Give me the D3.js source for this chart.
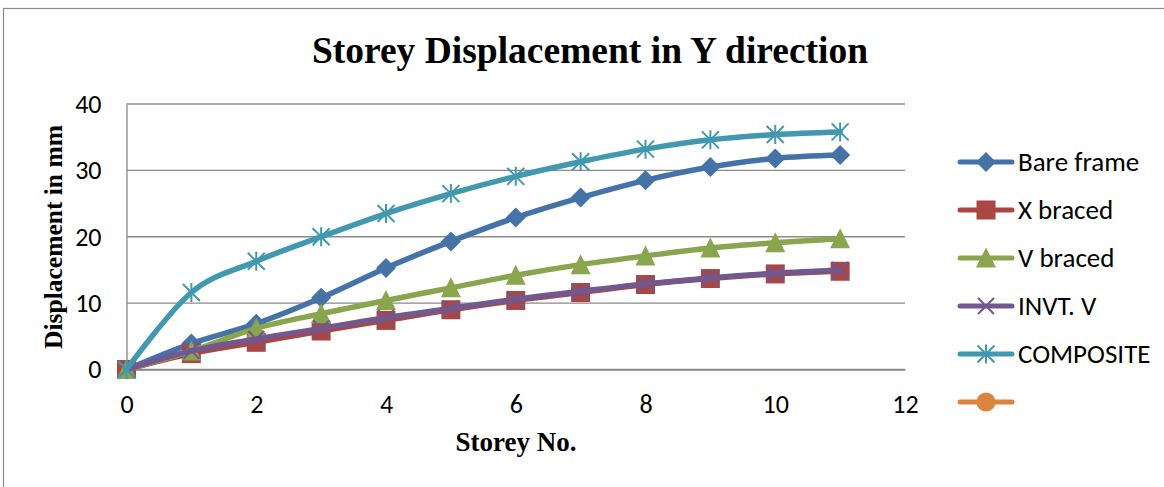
<!DOCTYPE html>
<html>
<head>
<meta charset="utf-8">
<script src="https://cdn.jsdelivr.net/npm/d3@7"></script>
<style>
  html, body { margin: 0; padding: 0; background: #fff; }
  svg { display: block; }
</style>
</head>
<body>
<svg id="chart" width="1164" height="487"></svg>
<script>
// Storey numbers (x) and displacement in mm for each structural system
const storeys   = [0, 1, 2, 3, 4, 5, 6, 7, 8, 9, 10, 11];
const bareFrame = [0, 3.9, 6.9, 10.8, 15.3, 19.3, 22.9, 25.9, 28.5, 30.5, 31.8, 32.3];
const xBraced   = [0, 2.4, 4.1, 5.8, 7.4, 9.0, 10.4, 11.6, 12.8, 13.7, 14.4, 14.8];
const vBraced   = [0, 2.8, 6.2, 8.4, 10.4, 12.3, 14.2, 15.8, 17.1, 18.3, 19.1, 19.7];
const invtV     = [0, 2.8, 4.6, 6.2, 7.8, 9.2, 10.6, 11.8, 12.9, 13.8, 14.5, 15.0];
const composite = [0, 11.6, 16.3, 20.0, 23.5, 26.5, 29.1, 31.3, 33.2, 34.6, 35.4, 35.8];
const unnamed   = [];   // empty series, listed in the legend only

const seriesNames = ["Bare frame", "X braced", "V braced", "INVT. V", "COMPOSITE", ""];
const xTicks = [0, 2, 4, 6, 8, 10, 12];
const yTicks = [0, 10, 20, 30, 40];

const series = [
  { name: seriesNames[0], values: bareFrame, color: "#4572A7", marker: "diamond" },
  { name: seriesNames[1], values: xBraced,   color: "#AA4643", marker: "square" },
  { name: seriesNames[2], values: vBraced,   color: "#89A54E", marker: "triangle" },
  { name: seriesNames[3], values: invtV,     color: "#71588F", marker: "x" },
  { name: seriesNames[4], values: composite, color: "#4198AF", marker: "star" },
  { name: seriesNames[5], values: unnamed,   color: "#DB843D", marker: "circle" }
];

const sansFont  = "Carlito, Lato, 'Open Sans', sans-serif";
const serifFont = "'Liberation Serif', 'Times New Roman', serif";

const svg = d3.select("#chart");

// chart frame
svg.append("rect")
  .attr("x", 3.5).attr("y", 8.5)
  .attr("width", 1200).attr("height", 520)
  .attr("fill", "#fff").attr("stroke", "#8c8c8c").attr("stroke-width", 1.2);

const x = d3.scaleLinear().domain([0, 12]).range([126.5, 905]);
const y = d3.scaleLinear().domain([0, 40]).range([369.5, 104]);

// horizontal gridlines
svg.append("g")
  .selectAll("line")
  .data(yTicks)
  .join("line")
  .attr("x1", x(0)).attr("x2", x(12))
  .attr("y1", d => y(d)).attr("y2", d => y(d))
  .attr("stroke", "#8a8a8a").attr("stroke-width", 1.3);

// y axis
const yAxis = svg.append("g")
  .attr("transform", `translate(${x(0)},0)`)
  .call(d3.axisLeft(y).tickValues(yTicks).tickSize(0).tickPadding(25));
yAxis.select(".domain").attr("stroke", "#8a8a8a").attr("stroke-width", 1.3);
yAxis.selectAll("text")
  .attr("font-family", sansFont)
  .attr("font-size", 26).attr("fill", "#000");

// x axis
const xAxis = svg.append("g")
  .attr("transform", `translate(0,${y(0)})`)
  .call(d3.axisBottom(x).tickValues(xTicks).tickSize(0).tickPadding(25));
xAxis.select(".domain").attr("stroke", "#8a8a8a").attr("stroke-width", 1.3);
xAxis.selectAll("text")
  .attr("font-family", sansFont)
  .attr("font-size", 26).attr("fill", "#000");

// titles
svg.append("text")
  .attr("x", 590).attr("y", 63)
  .attr("text-anchor", "middle")
  .attr("font-family", serifFont)
  .attr("font-weight", "bold").attr("font-size", 37.5)
  .text("Storey Displacement in Y direction");

svg.append("text")
  .attr("x", 516).attr("y", 451)
  .attr("text-anchor", "middle")
  .attr("font-family", serifFont)
  .attr("font-weight", "bold").attr("font-size", 27)
  .text("Storey No.");

svg.append("text")
  .attr("transform", "translate(62,237) rotate(-90)")
  .attr("text-anchor", "middle")
  .attr("font-family", serifFont)
  .attr("font-weight", "bold").attr("font-size", 25.5)
  .text("Displacement in mm");

// marker shapes
function drawMarker(g, type, color, cx, cy) {
  const s = 9.5;
  if (type === "diamond") {
    g.append("path")
      .attr("d", `M${cx},${cy - s - 0.5}L${cx + s + 0.5},${cy}L${cx},${cy + s + 0.5}L${cx - s - 0.5},${cy}Z`)
      .attr("fill", color);
  } else if (type === "square") {
    g.append("rect")
      .attr("x", cx - s).attr("y", cy - s)
      .attr("width", 2 * s).attr("height", 2 * s)
      .attr("fill", color);
  } else if (type === "triangle") {
    g.append("path")
      .attr("d", `M${cx},${cy - s - 1}L${cx + s + 0.5},${cy + s}L${cx - s - 0.5},${cy + s}Z`)
      .attr("fill", color);
  } else if (type === "x") {
    const k = 8;
    g.append("path")
      .attr("d", `M${cx - k},${cy - k}L${cx + k},${cy + k}M${cx + k},${cy - k}L${cx - k},${cy + k}`)
      .attr("stroke", color).attr("stroke-width", 2).attr("fill", "none");
  } else if (type === "star") {
    const k = 8.5;
    g.append("path")
      .attr("d", `M${cx - k},${cy - k}L${cx + k},${cy + k}M${cx + k},${cy - k}L${cx - k},${cy + k}M${cx},${cy - k - 1}L${cx},${cy + k + 1}`)
      .attr("stroke", color).attr("stroke-width", 2).attr("fill", "none");
  } else if (type === "circle") {
    g.append("circle")
      .attr("cx", cx).attr("cy", cy).attr("r", s)
      .attr("fill", color);
  }
}

// series lines and markers (smoothed)
const line = d3.line()
  .x(d => x(d[0]))
  .y(d => y(d[1]))
  .curve(d3.curveCardinal.tension(0));

series.forEach(s => {
  const pts = s.values.map((v, i) => [storeys[i], v]);
  if (!pts.length) return;
  const g = svg.append("g");
  g.append("path")
    .attr("d", line(pts))
    .attr("fill", "none")
    .attr("stroke", s.color)
    .attr("stroke-width", 5.5)
    .attr("stroke-linejoin", "round")
    .attr("stroke-linecap", "round");
  pts.forEach(p => drawMarker(g, s.marker, s.color, x(p[0]), y(p[1])));
});

// legend
const legendY0 = 162, legendStep = 48;
series.forEach((s, i) => {
  const ly = legendY0 + i * legendStep;
  const g = svg.append("g");
  g.append("line")
    .attr("x1", 960).attr("x2", 1012)
    .attr("y1", ly).attr("y2", ly)
    .attr("stroke", s.color).attr("stroke-width", 5)
    .attr("stroke-linecap", "round");
  drawMarker(g, s.marker, s.color, 986, ly);
  g.append("text")
    .attr("x", 1018).attr("y", ly + 9)
    .attr("font-family", sansFont)
    .attr("font-size", 27).attr("fill", "#000")
    .text(s.name);
});
</script>
</body>
</html>
